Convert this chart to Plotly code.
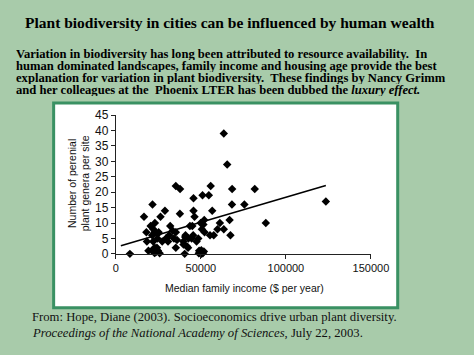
import plotly.graph_objects as go

W, H = 474, 355

# ---- data ----
income = [63500, 65500, 35300, 37800, 55800, 68400, 81700, 123500,
          45700, 51000, 54700,
          21600, 68300, 75600,
          28900, 45700, 56700,
          16600, 26300, 37700, 46300,
          52000, 66900,
          23000, 49900, 61200, 88200,
          20500, 32000, 43600, 45000, 51500,
          22100, 18000, 59800, 63500, 50600,
          22800, 25200, 35300, 52200, 33500,
          21400, 24800, 31400, 41000, 45500, 55400, 57600, 67400,
          24500, 29500, 34200, 40800, 42700, 44600, 48500,
          18300, 22000, 27300, 30700, 39700, 47500, 36000,
          39800, 35300, 41800, 42500, 23000, 22000, 24200,
          19200, 21400, 23500, 24800, 25800, 22800,
          8300, 40500, 49000, 49800, 50500, 51300, 48800, 50300, 51800, 50000]
genera = [39, 29, 22, 21, 22, 21, 21, 17,
          18, 19, 19,
          16, 16, 16,
          14, 14, 14,
          12, 12, 13, 12,
          11, 11,
          10, 10, 10, 10,
          9, 9, 9, 9, 9.5,
          8, 7, 8, 8, 8,
          7, 7, 7, 7, 7.5,
          6, 6.5, 6, 6, 6, 6, 6, 6,
          5, 5, 5, 5.5, 5, 5, 5,
          4, 4, 4, 4, 4, 4, 4.5,
          3, 2, 2.5, 2, 2, 1.5, 2,
          1, 1, 0.5, 1, 0.2, 0.3,
          0, 0, 1, 0.5, 0, 0.3, 0.2, 1.2, 0.8, 0]
fit_x = [3000, 123500]
fit_y = [2.6, 22.2]

x_ticks = [0, 50000, 100000, 150000]
y_ticks = [0, 5, 10, 15, 20, 25, 30, 35, 40, 45]

title = "Plant biodiversity in cities can be influenced by human wealth"
para = ["Variation in biodiversity has long been attributed to resource availability.  In",
        "human dominated landscapes, family income and housing age provide the best",
        "explanation for variation in plant biodiversity.  These findings by Nancy Grimm",
        "and her colleagues at the  Phoenix LTER has been dubbed the <i>luxury effect.</i>"]
cite = ["From: Hope, Diane (2003). Socioeconomics drive urban plant diversity.",
        "<i>Proceedings of the National Academy of Sciences</i>, July 22, 2003."]
x_title = "Median family income ($ per year)"
y_title = "Number of perenial<br>plant genera per site"

def px(x):
    return x / W

def py(y):
    return 1 - y / H

fig = go.Figure()
fig.add_trace(go.Scatter(x=income, y=genera, mode="markers",
                         marker=dict(symbol="diamond", size=6.5, color="black"),
                         cliponaxis=False, showlegend=False))
fig.add_trace(go.Scatter(x=fit_x, y=fit_y, mode="lines",
                         line=dict(color="black", width=1.6), showlegend=False))

axis_font = dict(family="Liberation Sans, Arial", size=11, color="#111")
fig.update_layout(
    width=W, height=H, margin=dict(l=0, r=0, t=0, b=0),
    paper_bgcolor="#a8cbaa", plot_bgcolor="white", hovermode=False,
    xaxis=dict(domain=[px(118), px(385)], range=[0, 150000], tickvals=x_ticks,
               ticktext=[str(v) for v in x_ticks], showgrid=False, zeroline=False,
               showline=True, linecolor="#222", linewidth=1, ticks="outside",
               ticklen=4, tickcolor="#222", tickfont=axis_font),
    yaxis=dict(domain=[py(257), py(112.5)], range=[0, 45], tickvals=y_ticks,
               showgrid=False, zeroline=False, showline=True, linecolor="#222",
               linewidth=1, ticks="outside", ticklen=4, tickcolor="#222",
               tickfont=dict(family="Liberation Sans, Arial", size=12, color="#111")),
)

fig.add_shape(type="rect", xref="paper", yref="paper",
              x0=px(53), x1=px(413), y0=py(313), y1=py(100),
              fillcolor="white", line=dict(color="#3a9163", width=3), layer="below")

serif = "Liberation Serif, Times New Roman"
ann = []
ann.append(dict(text="<b>" + title + "</b>", x=px(237), y=py(16), xanchor="center",
                yanchor="middle", font=dict(family=serif, size=15.5, color="black")))
for i, line in enumerate(para):
    ann.append(dict(text="<b>" + line + "</b>", x=px(12), y=py(49 + i * 12.4),
                    xanchor="left", yanchor="middle", height=12,
                    font=dict(family=serif, size=12.6, color="black")))
for i, line in enumerate(cite):
    ann.append(dict(text=line, x=px(28), y=py(323 + i * 16), xanchor="left",
                    yanchor="middle", font=dict(family=serif, size=12.7, color="#111")))
ann.append(dict(text=x_title, x=px(253), y=py(293), xanchor="center", yanchor="middle",
                font=dict(family="Liberation Sans, Arial", size=10.5, color="#111")))
ann.append(dict(text=y_title, x=px(79), y=py(184), xanchor="center", yanchor="middle",
                textangle=-90,
                font=dict(family="Liberation Sans, Arial", size=10.5, color="#111")))
for a in ann:
    a.update(xref="paper", yref="paper", showarrow=False)
fig.update_layout(annotations=ann)

fig.write_html("out.html", config={"displayModeBar": False, "staticPlot": True},
               post_script="document.body.style.margin='0';")
